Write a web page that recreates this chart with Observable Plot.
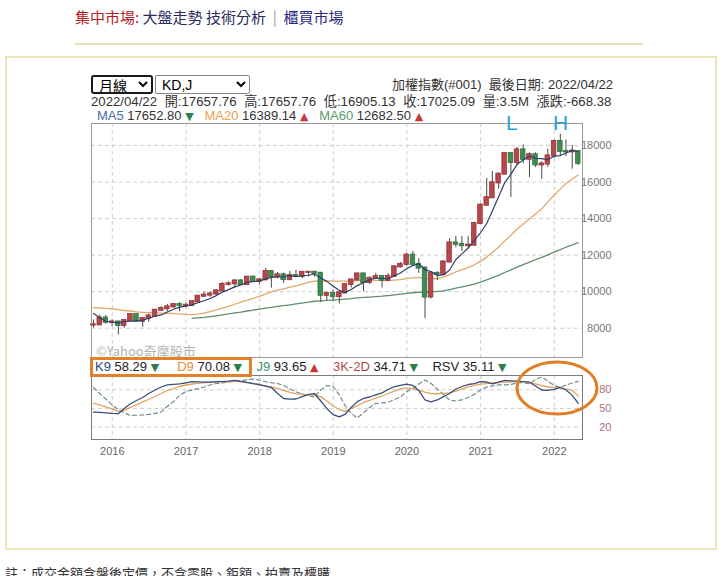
<!DOCTYPE html>
<html><head><meta charset="utf-8">
<script src="https://cdn.jsdelivr.net/npm/d3@7"></script>
<script src="https://cdn.jsdelivr.net/npm/@observablehq/plot@0.6"></script>
<style>
html,body{margin:0;padding:0;background:#fff;}
body{width:720px;height:576px;overflow:hidden;position:relative;font-family:"Liberation Sans","Noto Sans CJK TC",sans-serif;color:#222;}
.abs{position:absolute;white-space:nowrap;}
.cjk{font-family:"Noto Sans CJK TC","Liberation Sans",sans-serif;}
select{position:absolute;font-family:"Liberation Sans","Noto Sans CJK TC",sans-serif;font-size:14px;background:#fff;color:#000;padding:0 2px;box-sizing:border-box;}
.tri{font-family:"DejaVu Sans",sans-serif;font-size:11px;}
</style></head><body>

<div class="abs cjk" style="left:75px;top:6px;font-size:15px;line-height:22px;">
<span style="color:#b52025">集中市場:</span> <span style="color:#2a2a5a">大盤走勢 技術分析</span>&nbsp;&nbsp;<span style="color:#999">|</span>&nbsp;&nbsp;<span style="color:#2a2a80">櫃買市場</span>
</div>
<div class="abs" style="left:75px;top:43px;width:568px;height:2px;background:#e4e0b0"></div>
<div class="abs" style="left:5px;top:56px;width:712px;height:494px;border:2px solid #ebe6b8;box-sizing:border-box"></div>

<select style="left:91px;top:75px;width:62px;height:19px;border:2px solid #1a1a1a;border-radius:3px;"><option>月線</option></select>
<select style="left:155px;top:75px;width:95px;height:19px;border:1px solid #888;border-radius:2px;"><option>KD,J</option></select>

<div class="abs" style="right:107px;top:77px;font-size:13px;line-height:16px;color:#333">加權指數(#001)&nbsp;&nbsp;最後日期: 2022/04/22</div>
<div class="abs" style="left:91px;top:94px;font-size:13.2px;word-spacing:4px;line-height:16px;color:#333">2022/04/22 開:17657.76 高:17657.76 低:16905.13 收:17025.09 量:3.5M 漲跌:-668.38</div>
<div class="abs" style="left:97px;top:108px;font-size:13px;line-height:16px;color:#333">
<span style="color:#4a6ea8">MA5</span> 17652.80 <span class="tri" style="color:#2e7d4f">▼</span>&nbsp;&nbsp;
<span style="color:#e8a050">MA20</span> 16389.14 <span class="tri" style="color:#c8383a">▲</span>&nbsp;&nbsp;
<span style="color:#5a9a70">MA60</span> 12682.50 <span class="tri" style="color:#c8383a">▲</span>
</div>

<div class="abs" id="mainplot" style="left:0;top:110px;"></div>
<div class="abs" id="kdplot" style="left:0;top:370px;"></div>

<div class="abs" style="left:506px;top:112px;font-size:21px;line-height:22px;color:#2f9fd8;">L</div>
<div class="abs" style="left:553px;top:112px;font-size:21px;line-height:22px;color:#2f9fd8;">H</div>

<div class="abs cjk" style="left:96px;top:342px;font-size:13px;line-height:18px;color:#b4b4b4">©Yahoo奇摩股市</div>

<div class="abs" style="left:95px;top:359px;font-size:13px;line-height:16px;color:#222">
<span style="color:#2b4a7a">K9</span> 58.29 <span class="tri" style="color:#2e7d4f">▼</span>&nbsp;&nbsp;&nbsp;&nbsp;
<span style="color:#e09040">D9</span> 70.08 <span class="tri" style="color:#2e7d4f">▼</span>&nbsp;&nbsp;&nbsp;
<span style="color:#3f8f5f">J9</span> 93.65 <span class="tri" style="color:#c8383a">▲</span>&nbsp;&nbsp;&nbsp;
<span style="color:#b04a4a">3K-2D</span> 34.71 <span class="tri" style="color:#2e7d4f">▼</span>&nbsp;&nbsp;&nbsp;
RSV 35.11 <span class="tri" style="color:#2e7d4f">▼</span>
</div>
<div class="abs" style="left:90px;top:357px;width:162px;height:20px;border:3px solid #e47f2a;box-sizing:border-box"></div>

<svg class="abs" style="left:0;top:0;" width="720" height="576">
<ellipse cx="557" cy="388" rx="40" ry="26" fill="none" stroke="#e07d25" stroke-width="3"/>
</svg>

<div class="abs cjk" style="left:5px;top:565px;font-size:13px;line-height:16px;color:#333">註：成交金額含盤後定價，不含零股、鉅額、拍賣及標購</div>

<script>
// ---- data ----
const months = ["2015-09","2015-10","2015-11","2015-12",
"2016-01","2016-02","2016-03","2016-04","2016-05","2016-06","2016-07","2016-08","2016-09","2016-10","2016-11","2016-12",
"2017-01","2017-02","2017-03","2017-04","2017-05","2017-06","2017-07","2017-08","2017-09","2017-10","2017-11","2017-12",
"2018-01","2018-02","2018-03","2018-04","2018-05","2018-06","2018-07","2018-08","2018-09","2018-10","2018-11","2018-12",
"2019-01","2019-02","2019-03","2019-04","2019-05","2019-06","2019-07","2019-08","2019-09","2019-10","2019-11","2019-12",
"2020-01","2020-02","2020-03","2020-04","2020-05","2020-06","2020-07","2020-08","2020-09","2020-10","2020-11","2020-12",
"2021-01","2021-02","2021-03","2021-04","2021-05","2021-06","2021-07","2021-08","2021-09","2021-10","2021-11","2021-12",
"2022-01","2022-02","2022-03","2022-04"];

const openP = [8174,8181,8554,8320,
8338,8145,8411,8745,8377,8536,8667,8984,9068,9166,9290,9240,
9254,9448,9750,9812,9872,10041,10395,10427,10586,10384,10794,10560,
10643,11104,10815,10919,10658,10875,10837,11057,11064,11006,9802,9888,
9727,9932,10389,10641,10968,10498,10731,10824,10618,10830,11358,11490,
11997,11495,11292,9708,10992,10943,11621,12665,12592,12516,12546,13723,
14733,15138,15953,16431,17567,17068,17755,17247,17490,16935,16987,17428,
18219,17674,17652,17657.76];
const highP = [8450,8720,8700,8460,
8340,8460,8790,8790,8560,8770,9010,9180,9300,9330,9400,9390,
9470,9780,9970,9980,10100,10500,10540,10620,10650,10800,10850,10700,
11270,11150,11050,11020,11100,11160,11100,11100,11100,11050,10000,10100,
10000,10400,10650,11000,11000,10800,11000,10850,11000,11400,11600,12100,
12200,11800,11300,11000,11100,11700,12900,13030,13030,13030,13800,14800,
16200,16580,16500,17600,17600,17900,18030,17600,17600,17100,17800,18300,
18620,18300,18000,17657.76];
const lowP = [8000,8170,8220,8100,
7630,8000,8400,8370,8050,8320,8600,8950,8900,9100,8900,9100,
9200,9400,9700,9690,9800,10000,10300,10200,10330,10380,10500,10400,
10640,10190,10700,10450,10600,10800,10700,10800,10800,9400,9500,9500,
9320,9930,10200,10600,10000,10400,10700,10200,10600,10800,11300,11400,
11400,11000,8520,9600,10600,10950,11600,12400,12200,12400,12500,13700,
14700,15100,15600,16400,15160,16900,17000,16250,16800,16150,16800,17300,
17400,17400,16700,16905.13];
const closeP = [8181,8554,8320,8338,
8145,8411,8745,8377,8536,8667,8984,9068,9166,9290,9240,9254,
9448,9750,9812,9872,10041,10395,10427,10586,10384,10794,10560,10643,
11104,10815,10919,10658,10875,10837,11057,11064,11006,9802,9888,9727,
9932,10389,10641,10968,10498,10731,10824,10618,10830,11358,11490,11997,
11495,11292,9708,10992,10943,11621,12665,12592,12516,12546,13723,14733,
15138,15953,16431,17567,17068,17755,17247,17490,16935,16987,17428,18219,
17674,17652,17693,17025.09];

const ma5 = [8809,8579,8379,8313,
8308,8354,8392,8403,8443,8547,8662,8726,8884,9035,9150,9204,
9280,9396,9501,9627,9785,9974,10109,10264,10367,10517,10550,10593,
10697,10783,10808,10828,10874,10821,10869,10898,10968,10753,10563,10297,
10071,9948,10115,10331,10486,10645,10732,10728,10700,10872,11024,11259,
11434,11526,11196,11097,10886,10911,11186,11763,12067,12388,12808,13222,
13731,14419,15196,15964,16431,16955,17214,17425,17299,17283,17217,17412,
17449,17592,17733,17652.80];
const ma20 = [9118,9114,9088,9065,
9018,8969,8941,8888,8866,8851,8841,8829,8819,8803,8785,8757,
8744,8766,8823,8908,9001,9093,9198,9311,9423,9542,9633,9746,
9874,9982,10078,10158,10243,10321,10412,10502,10580,10583,10586,10579,
10574,10573,10584,10603,10609,10606,10619,10618,10604,10631,10660,10727,
10758,10780,10713,10709,10706,10797,10936,11079,11208,11316,11470,11659,
11891,12152,12432,12780,13091,13411,13699,13974,14246,14531,14917,15278,
15614,15916,16167,16389.14];
const ma60 = [null,null,null,null,
null,null,null,null,null,null,null,null,null,null,null,null,
8535,8562,8594,8633,8679,8730,8783,8836,8881,8941,8991,9040,
9094,9143,9193,9235,9279,9327,9376,9427,9474,9497,9521,9540,
9564,9593,9623,9660,9683,9706,9731,9750,9782,9821,9860,9904,
9940,9968,9970,9989,10010,10048,10115,10189,10261,10328,10418,10524,
10641,10766,10895,11048,11190,11341,11479,11619,11749,11877,12014,12163,
12300,12432,12563,12682.50];

const k9 = [44,43.5,42.8,42,
41.5,50,57.5,62.8,67.6,74,79.7,84.5,88,88.8,89.5,91.2,
93,92.8,92.4,92.4,93,93.3,94,95,93.3,91.4,89.8,88.5,
86,83.7,74,66,65,65.2,69,72.5,74,62,50,40,
36.3,40.3,51.6,61,66,68.4,71.7,75,80.5,85,87,89,
87,79,63.6,60.4,63.6,69,74,81.3,85.3,88.5,90,93,
92.5,89.6,92.5,95,94.4,94,93.3,92.2,86,79.7,79,80.5,
83.7,79.7,71,58.29];
const d9 = [58.3,55.6,52.4,49.2,
45.2,46.8,51.6,55.6,60.4,64.4,69.2,74,78.9,82,85.3,87.7,
89.3,90.4,91.4,92,92.5,93,93.3,93.6,93.6,92.5,90.1,87.7,
86,84.5,82,79,75.7,73.4,72.5,71.7,71.5,69,62,54,
48.2,45.5,49.5,54,59.6,62.8,66.8,70,74,78,81.3,83.2,
81.3,78.9,76.1,73.7,73.6,74.2,74.9,78,81.6,84.8,87.2,89.1,
90,90.9,91.7,92.2,92.7,93.2,93.3,91.7,89.6,86.9,84.5,83.7,
83.2,81.6,78.9,70.08];
const j9 = [83.7,74,65.2,55.6,
48.4,42.8,38.7,39,39.5,40.3,42,44.4,53.2,61.2,70.9,77.3,
79.7,81.8,84.5,87.7,90.1,90.9,92.5,94,94.9,96.2,97.3,95.7,
93,91.4,90.1,86.9,81.3,76.5,73.3,70.9,68.1,80,86.9,85.3,
71.7,54.8,42,34.7,42.8,51.6,58,58.8,59.9,64.4,68.4,77.3,
82.1,89.3,95.7,90.1,81.3,72.5,63.6,62,63.9,67.6,72.5,79.7,
84.5,86.1,88,88,88.5,91.2,91.7,89.6,96.5,100.5,94.1,86.9,
83.7,87.7,90.9,93.65];

const years = ["2016","2017","2018","2019","2020","2021","2022"];
const priceTicks = [8000,10000,12000,14000,16000,18000];
const kdTicks = [20,50,80];

// ---- build ----
const monthEnd = s => { const [y,m] = s.split("-").map(Number); return new Date(Date.UTC(y, m, 0)); };
const rows = months.map((m,i) => ({
  date: monthEnd(m), open: openP[i], high: highP[i], low: lowP[i], close: closeP[i],
  up: closeP[i] >= openP[i], ma5: ma5[i], ma20: ma20[i], ma60: ma60[i], k: k9[i], d: d9[i], j: j9[i]
}));
const yearDates = years.map(y => new Date(Date.UTC(+y, 0, 1)));
const xDomain = [new Date(Date.UTC(2015,8,20)), new Date(Date.UTC(2022,4,21))];
const gridStyle = {stroke: "#cfcfcf", strokeDasharray: "4,3", strokeWidth: 1};
const plotStyle = {background: "transparent", fontFamily: "Liberation Sans, Arial, sans-serif", fontSize: "11px", overflow: "visible"};

const main = Plot.plot({
  width: 720, height: 250, marginLeft: 91, marginRight: 138, marginTop: 13, marginBottom: 3,
  style: plotStyle,
  x: {type: "utc", domain: xDomain, axis: null},
  y: {domain: [6396, 19204], axis: null},
  color: {type: "identity"},
  marks: [
    Plot.ruleY(priceTicks, {y: d => d, ...gridStyle}),
    Plot.ruleX(yearDates, {x: d => d, ...gridStyle}),
    Plot.frame({stroke: "#9a9a9a"}),
    Plot.line(rows.filter(d => d.ma60 != null), {x: "date", y: "ma60", stroke: "#5e8f6e", strokeWidth: 1.3}),
    Plot.line(rows, {x: "date", y: "ma20", stroke: "#e3a86a", strokeWidth: 1.3}),
    Plot.ruleX(rows, {x: "date", y1: "low", y2: "high", stroke: "#4a4a4a", strokeWidth: 1}),
    Plot.rect(rows, {x1: "date", x2: "date", y1: "open", y2: "close",
      fill: d => d.up ? "#b8474b" : "#3e8c52", stroke: d => d.up ? "#8e2e33" : "#2b6b3c", strokeWidth: 0.7,
      insetLeft: -2.3, insetRight: -2.3, insetTop: -0.6, insetBottom: -0.6}),
    Plot.line(rows, {x: "date", y: "ma5", stroke: "#2e3f66", strokeWidth: 1.2}),
    Plot.text(priceTicks, {y: d => d, frameAnchor: "right", textAnchor: "end", dx: 29, text: d => String(d), fill: "#777", fontSize: 11})
  ]
});
document.getElementById("mainplot").appendChild(main);

const kd = Plot.plot({
  width: 720, height: 95, marginLeft: 91, marginRight: 138, marginTop: 5, marginBottom: 26,
  style: plotStyle,
  x: {type: "utc", domain: xDomain, axis: null},
  y: {domain: [0, 103], axis: null},
  marks: [
    Plot.ruleY(kdTicks, {y: d => d, ...gridStyle}),
    Plot.ruleX(yearDates, {x: d => d, ...gridStyle}),
    Plot.line(rows, {x: "date", y: "j", stroke: "#6f8f88", strokeWidth: 1.2, strokeDasharray: "4,3"}),
    Plot.line(rows, {x: "date", y: "d", stroke: "#e3a25f", strokeWidth: 1.3}),
    Plot.line(rows, {x: "date", y: "k", stroke: "#3b4d7a", strokeWidth: 1.3}),
    Plot.frame({stroke: "#7a7a7a"}),
    Plot.text(kdTicks, {y: d => d, frameAnchor: "right", textAnchor: "end", dx: 29, text: d => String(d), fill: "#b0707c", fontSize: 11}),
    Plot.text(yearDates, {x: d => d, frameAnchor: "bottom", dy: 15, text: (d, i) => years[i], fill: "#666", fontSize: 11})
  ]
});
document.getElementById("kdplot").appendChild(kd);
</script>
</body></html>
